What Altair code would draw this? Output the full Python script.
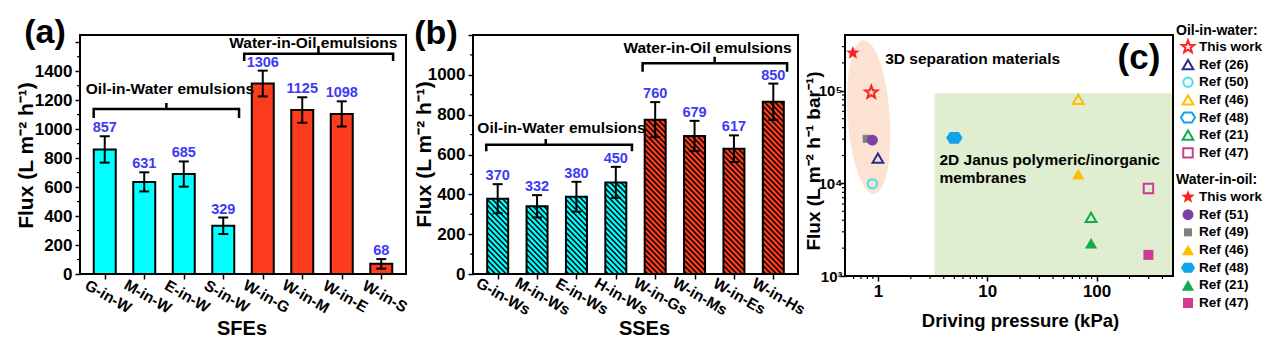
import math
import altair as alt
import pandas as pd

FONT = "Liberation Sans"
CYAN = "#00ffff"
RED = "#fc3c1c"
NUM_BLUE = "#3b3bf5"
PEACH = "#fbe2d2"
GREEN = "#dfedd0"

# ---------------- data: panel (a) ----------------
a_cats = ["G-in-W", "M-in-W", "E-in-W", "S-in-W", "W-in-G", "W-in-M", "W-in-E", "W-in-S"]
a_vals = [860, 636, 690, 333, 1315, 1132, 1105, 70]
a_errs = [91, 66, 87, 57, 89, 88, 87, 33]
a_labels = ["857", "631", "685", "329", "1306", "1125", "1098", "68"]
a_ticks = [0, 200, 400, 600, 800, 1000, 1200, 1400, 1600]
a_minor = [100, 300, 500, 700, 900, 1100, 1300, 1500]

# ---------------- data: panel (b) ----------------
b_cats = ["G-in-Ws", "M-in-Ws", "E-in-Ws", "H-in-Ws", "W-in-Gs", "W-in-Ms", "W-in-Es", "W-in-Hs"]
b_vals = [378, 340, 388, 460, 775, 693, 629, 865]
b_errs = [73, 56, 75, 78, 88, 76, 67, 91]
b_labels = ["370", "332", "380", "450", "760", "679", "617", "850"]
b_ticks = [0, 200, 400, 600, 800, 1000, 1200]
b_minor = [100, 300, 500, 700, 900, 1100]

group_names = ["Oil-in-Water", "Oil-in-Water", "Oil-in-Water", "Oil-in-Water",
               "Water-in-Oil", "Water-in-Oil", "Water-in-Oil", "Water-in-Oil"]

# ---------------- data: panel (c) ----------------
oil_names = ["This work", "Ref (26)", "Ref (50)", "Ref (46)", "Ref (48)", "Ref (21)", "Ref (47)"]
oil_pressure = [0.87, 1.0, 0.89, 68, 5.0, 89, 298]
oil_flux = [96000, 18700, 9900, 81000, 31000, 4300, 8800]
water_names = ["This work", "Ref (51)", "Ref (49)", "Ref (46)", "Ref (48)", "Ref (21)", "Ref (47)"]
water_pressure = [0.59, 0.89, 0.79, 68, 5.0, 89, 298]
water_flux = [256000, 29300, 30300, 12600, 31000, 2260, 1690]

c_x_ticks = [1, 10, 100]
c_x_minor = [0.6, 0.7, 0.8, 0.9, 2, 3, 4, 5, 6, 7, 8, 9,
             20, 30, 40, 50, 60, 70, 80, 90, 200, 300, 400]
c_y_ticks = [1000, 10000, 100000]
c_y_minor = [2000, 3000, 4000, 5000, 6000, 7000, 8000, 9000,
             20000, 30000, 40000, 50000, 60000, 70000, 80000, 90000, 200000, 300000]


def star_path(inner=0.42):
    pts = []
    for k in range(10):
        r = 1.0 if k % 2 == 0 else inner
        a = math.radians(-90 + 36 * k)
        pts.append(f"{r * math.cos(a):.4f},{r * math.sin(a):.4f}")
    return "M" + " L".join(pts) + " Z"


def ellipse_path(rx, ry, rot_deg, n=60):
    phi = math.radians(rot_deg)
    pts = []
    for k in range(n):
        t = 2 * math.pi * k / n
        x, y = rx * math.cos(t), ry * math.sin(t)
        xr = x * math.cos(phi) - y * math.sin(phi)
        yr = x * math.sin(phi) + y * math.cos(phi)
        pts.append(f"{xr:.4f},{yr:.4f}")
    return "M" + " L".join(pts) + " Z"


STAR = star_path()
HEX = "M-1,0 L-0.55,-0.7 L0.55,-0.7 L1,0 L0.55,0.7 L-0.55,0.7 Z"

series_shape = {"This work": STAR, "Ref (26)": "triangle-up", "Ref (50)": "circle",
                "Ref (46)": "triangle-up", "Ref (48)": HEX, "Ref (21)": "triangle-up",
                "Ref (47)": "square", "Ref (51)": "circle", "Ref (49)": "square"}
series_color = {"This work": "#ff2121", "Ref (26)": "#2b2a8f", "Ref (50)": "#3be3e6",
                "Ref (46)": "#ffbf00", "Ref (48)": "#0fa3e8", "Ref (21)": "#0fab4c",
                "Ref (47)": "#cc3d8f", "Ref (51)": "#7a42a3", "Ref (49)": "#808080"}


def sym_size(name, filled):
    s = series_shape[name]
    if s == STAR:
        return 200 if filled else 170
    if s == HEX:
        return 200
    if s == "triangle-up":
        return 150 if filled else 115
    if s == "circle":
        return 120 if filled else 85
    if name == "Ref (49)":
        return 64
    return 100 if filled else 90


W_A, H_A = 326, 239
W_B, H_B, B_SHIFT = 345, 239, 20
W_C, H_C = 328, 241
W_L = 40
one = pd.DataFrame({"k": [0]})


def bar_panel(cats, vals, errs, labels, ydom, yticks, ylab_max, yminor, width, height, shift,
              bar_w, hatched, brackets, btexts, xtitle, xtitle_x, ytitle_x, ytitle_y,
              lab_offset, plabel, plabel_xy, anchor=False):
    n = len(cats)
    xs = alt.Scale(domain=[-0.5, n - 0.5], range=[shift, width], nice=False, zero=False)
    ys = alt.Scale(domain=ydom, nice=False, zero=True)
    expr = "[" + ",".join(f"'{c}'" for c in cats) + "][datum.value]"
    xaxis = alt.Axis(values=list(range(n)), labelExpr=expr, labelAngle=30, labelAlign="center",
                     labelBaseline="middle", labelPadding=17, labelOffset=lab_offset,
                     labelFontSize=15.5, labelOverlap=False, labelFlush=False, tickSize=5,
                     title=xtitle, titleX=xtitle_x, titleY=54, titleAlign="center",
                     titleBaseline="middle", titleFontSize=20)
    yaxis = alt.Axis(values=yticks, format="d", labelExpr=f"datum.value > {ylab_max} ? '' : datum.label",
                     labelFontSize=17, labelPadding=3, tickSize=5, labelFlush=False,
                     labelOverlap=False, offset=-shift, title="Flux (L m⁻² h⁻¹)",
                     titleX=ytitle_x, titleY=ytitle_y, titleAngle=270, titleAlign="center",
                     titleBaseline="middle", titleFontSize=21)

    def X(f):
        return alt.X(f, type="quantitative", scale=xs, axis=xaxis)

    def Y(f):
        return alt.Y(f, type="quantitative", scale=ys, axis=yaxis)

    df = pd.DataFrame({"idx": list(range(n)), "v": vals, "e": errs, "lab": labels,
                       "g": group_names})
    df["lo"] = df["v"] - df["e"]
    df["hi"] = df["v"] + df["e"]
    color = alt.Color("g:N", scale=alt.Scale(domain=["Oil-in-Water", "Water-in-Oil"],
                                             range=[CYAN, RED]), legend=None)
    layers = []
    layers.append(alt.Chart(df).mark_bar(size=bar_w, strokeWidth=0).encode(
        x=X("idx"), y=Y("v"), color=color))
    if hatched:
        ppx = (width - shift) / n
        ppy = height / ydom[1]
        hw = bar_w / 2.0
        period = 5.5
        rows = []
        for i, v in enumerate(vals):
            Wp, Hp = bar_w, v * ppy
            c = period / 2
            while c < Wp + Hp:
                u1 = max(0.0, c - Hp)
                u2 = min(Wp, c)
                rows.append({"x1": i + (u1 - hw) / ppx, "x2": i + (u2 - hw) / ppx,
                             "y1": (c - u1) / ppy, "y2": (c - u2) / ppy})
                c += period
        hdf = pd.DataFrame(rows)
        layers.append(alt.Chart(hdf).mark_rule(strokeWidth=1.5, color="black").encode(
            x=X("x1"), x2="x2", y=Y("y1"), y2="y2"))
    layers.append(alt.Chart(df).mark_bar(size=bar_w, fillOpacity=0, stroke="black",
                                         strokeWidth=2).encode(x=X("idx"), y=Y("v")))
    layers.append(alt.Chart(df).mark_rule(strokeWidth=2, color="black").encode(
        x=X("idx"), y=Y("lo"), y2="hi"))
    for f in ["lo", "hi"]:
        layers.append(alt.Chart(df).mark_tick(orient="horizontal", size=10, thickness=2,
                                              color="black", opacity=1).encode(x=X("idx"), y=Y(f)))
    layers.append(alt.Chart(df).mark_text(dy=-4, baseline="alphabetic", fontSize=14.5,
                                          fontWeight="bold", color=NUM_BLUE).encode(
        x=X("idx"), y=Y("hi"), text="lab:N"))
    layers.append(alt.Chart(pd.DataFrame({"m": yminor})).mark_rule(strokeWidth=1.2, color="black").encode(
        y=Y("m"), x=alt.value(shift), x2=alt.value(shift - 3)))
    # brackets
    rows = []
    for bi, (x0, x1, xc, ymid, yend, ytop) in enumerate(brackets):
        pts = [(x0, yend), (x0, ymid), (xc, ymid), (xc, ytop), (xc, ymid), (x1, ymid), (x1, yend)]
        for o, (px, py) in enumerate(pts):
            rows.append({"b": bi, "o": o, "bx": px, "by": py})
    layers.append(alt.Chart(pd.DataFrame(rows)).mark_line(color="black", strokeWidth=2.5).encode(
        x=X("bx"), y=Y("by"), order=alt.Order("o:Q"), detail="b:N"))
    tdf = pd.DataFrame({"tx": [t[0] for t in btexts], "ty": [t[1] for t in btexts],
                        "tt": [t[2] for t in btexts]})
    layers.append(alt.Chart(tdf).mark_text(fontSize=15.5, fontWeight="bold", color="black",
                                           baseline="middle", align="center").encode(
        x=X("tx"), y=Y("ty"), text="tt:N"))
    layers.append(alt.Chart(one).mark_rect(fillOpacity=0, stroke="black", strokeWidth=2).encode(
        x=alt.value(shift), x2=alt.value(width), y=alt.value(0), y2=alt.value(height)))
    layers.append(alt.Chart(one).mark_text(fontSize=34, fontWeight="bold", color="black",
                                           baseline="middle", align="center").encode(
        x=alt.value(plabel_xy[0]), y=alt.value(plabel_xy[1]), text=alt.value(plabel)))
    if anchor:
        layers.append(alt.Chart(one).mark_rule(color="white", strokeWidth=1).encode(
            x=alt.value(-79), y=alt.value(-34), y2=alt.value(0)))
    return alt.layer(*layers).properties(width=width, height=height)


pa = bar_panel(a_cats, a_vals, a_errs, a_labels, [0, 1650], a_ticks, 1500, a_minor, W_A, H_A, 0,
               22, False,
               [(-0.28, 3.40, 1.56, 1139, 1077, 1180), (3.53, 7.30, 5.41, 1521, 1470, 1574)],
               [(1.65, 1277, "Oil-in-Water emulsions"), (5.28, 1595, "Water-in-Oil emulsions")],
               "SFEs", 161.5, -54, 120, 3, "(a)", (-35, -2), anchor=True)

pb = bar_panel(b_cats, b_vals, b_errs, b_labels, [0, 1200], b_ticks, 1100, b_minor, W_B, H_B,
               B_SHIFT, 21, True,
               [(-0.29, 3.41, 1.22, 649, 616, 678), (3.68, 7.35, 5.51, 1058, 1016, 1091)],
               [(1.62, 735, "Oil-in-Water emulsions"), (5.33, 1133, "Water-in-Oil emulsions")],
               "SSEs", 191, -49, 119, 5, "(b)", (-17, -1))

# ---------------- panel (c) ----------------
xs_c = alt.Scale(type="log", domain=[0.5, 500], nice=False)
ys_c = alt.Scale(type="log", domain=[1000, 400000], nice=False)
xaxis_c = alt.Axis(values=c_x_ticks, format="~g", labelFontSize=17, labelPadding=2, tickSize=5,
                   labelFlush=False, labelOverlap=False, title="Driving pressure (kPa)",
                   titleX=175, titleY=44, titleAlign="center", titleBaseline="middle",
                   titleFontSize=18.5)
yaxis_c = alt.Axis(values=c_y_ticks,
                   labelExpr="datum.value < 5000 ? '10³' : datum.value < 50000 ? '10⁴' : '10⁵'",
                   labelFontSize=15, labelPadding=-2, tickSize=5, labelBaseline="middle",
                   labelFlush=False, labelOverlap=False, title="Flux (L m⁻² h⁻¹ bar⁻¹)",
                   titleX=-32, titleY=125.5, titleAngle=270, titleAlign="center",
                   titleBaseline="middle", titleFontSize=19)


def XC(f):
    return alt.X(f, type="quantitative", scale=xs_c, axis=xaxis_c)


def YC(f):
    return alt.Y(f, type="quantitative", scale=ys_c, axis=yaxis_c)


c_layers = []
c_layers.append(alt.Chart(pd.DataFrame({"p": [3.29], "p2": [500], "f": [94000], "f2": [1000]}))
                .mark_rect(color=GREEN).encode(x=XC("p"), x2="p2", y=YC("f"), y2="f2"))
c_layers.append(alt.Chart(pd.DataFrame({"p": [0.824], "f": [51960]}))
                .mark_point(shape=ellipse_path(0.273, 1.0, -4), size=23716, filled=True,
                            color=PEACH, opacity=1, strokeWidth=0)
                .encode(x=XC("p"), y=YC("f")))
c_layers.append(alt.Chart(pd.DataFrame({"p": c_x_minor})).mark_rule(strokeWidth=1.2, color="black")
                .encode(x=XC("p"), y=alt.value(H_C), y2=alt.value(H_C + 3)))
c_layers.append(alt.Chart(pd.DataFrame({"f": c_y_minor})).mark_rule(strokeWidth=1.2, color="black")
                .encode(y=YC("f"), x=alt.value(0), x2=alt.value(-3)))

draw = [(oil_names, oil_pressure, oil_flux, False)]
w_order = [0, 2, 1, 3, 4, 5, 6]
draw.append(([water_names[i] for i in w_order], [water_pressure[i] for i in w_order],
             [water_flux[i] for i in w_order], True))
for names, ps, fs, filled in draw:
    for nm, p, f in zip(names, ps, fs):
        kw = dict(shape=series_shape[nm], size=sym_size(nm, filled), opacity=1)
        if filled:
            mk = alt.Chart(pd.DataFrame({"p": [p], "f": [f]})).mark_point(
                filled=True, color=series_color[nm], strokeWidth=0, **kw)
        else:
            mk = alt.Chart(pd.DataFrame({"p": [p], "f": [f]})).mark_point(
                filled=False, color=series_color[nm], strokeWidth=2, **kw)
        c_layers.append(mk.encode(x=XC("p"), y=YC("f")))

ann = pd.DataFrame({"p": [1.166, 3.65, 3.65], "f": [223000, 17800, 11300],
                    "t": ["3D  separation materials", "2D Janus polymeric/inorganic", "membranes"]})
c_layers.append(alt.Chart(ann).mark_text(fontSize=15.5, fontWeight="bold", color="black",
                                         align="left", baseline="middle")
                .encode(x=XC("p"), y=YC("f"), text="t:N"))
c_layers.append(alt.Chart(one).mark_rect(fillOpacity=0, stroke="black", strokeWidth=2).encode(
    x=alt.value(0), x2=alt.value(W_C), y=alt.value(0), y2=alt.value(H_C)))
c_layers.append(alt.Chart(one).mark_text(fontSize=35, fontWeight="bold", color="black",
                                         baseline="middle", align="center").encode(
    x=alt.value(294), y=alt.value(23), text=alt.value("(c)")))
pc = alt.layer(*c_layers).properties(width=W_C, height=H_C)

# ---------------- legend panel ----------------
ls = alt.Scale(domain=[0, 15.4], range=[-4, 268], nice=False, zero=False)


def YL(f):
    return alt.Y(f, type="quantitative", scale=ls, axis=None)


l_layers = []
hdr = pd.DataFrame({"row": [0, 8.45], "t": ["Oil-in-water:", "Water-in-oil:"]})
l_layers.append(alt.Chart(hdr).mark_text(fontSize=14, fontWeight="bold", color="black",
                                         align="left", baseline="middle")
                .encode(x=alt.value(-44), y=YL("row"), text="t:N"))
items = []
for k, nm in enumerate(oil_names):
    items.append((0.9 + k, nm, False))
for k, nm in enumerate(water_names):
    items.append((9.4 + k, nm, True))
idf = pd.DataFrame({"row": [r for r, _, _ in items], "t": [n for _, n, _ in items]})
l_layers.append(alt.Chart(idf).mark_text(fontSize=13.5, fontWeight="bold", color="black",
                                         align="left", baseline="middle")
                .encode(x=alt.value(-21), y=YL("row"), text="t:N"))
for r, nm, filled in items:
    kw = dict(shape=series_shape[nm], size=sym_size(nm, filled), opacity=1,
              color=series_color[nm], filled=filled, strokeWidth=0 if filled else 2)
    l_layers.append(alt.Chart(pd.DataFrame({"row": [r]})).mark_point(**kw)
                    .encode(x=alt.value(-32), y=YL("row")))
pl = alt.layer(*l_layers).properties(width=W_L, height=H_C)

chart = (
    alt.hconcat(pa, pb, pc, pl, spacing=47, bounds="flush")
    .properties(padding=0, background="white")
    .configure(font=FONT)
    .configure_view(strokeWidth=0)
    .configure_axis(labelFont=FONT, titleFont=FONT, labelColor="black", titleColor="black",
                    tickColor="black", tickWidth=1.5, domain=False, grid=False,
                    labelFontWeight="bold", titleFontWeight="bold")
)

chart.save("out.html", embed_options={"renderer": "svg", "actions": False})
